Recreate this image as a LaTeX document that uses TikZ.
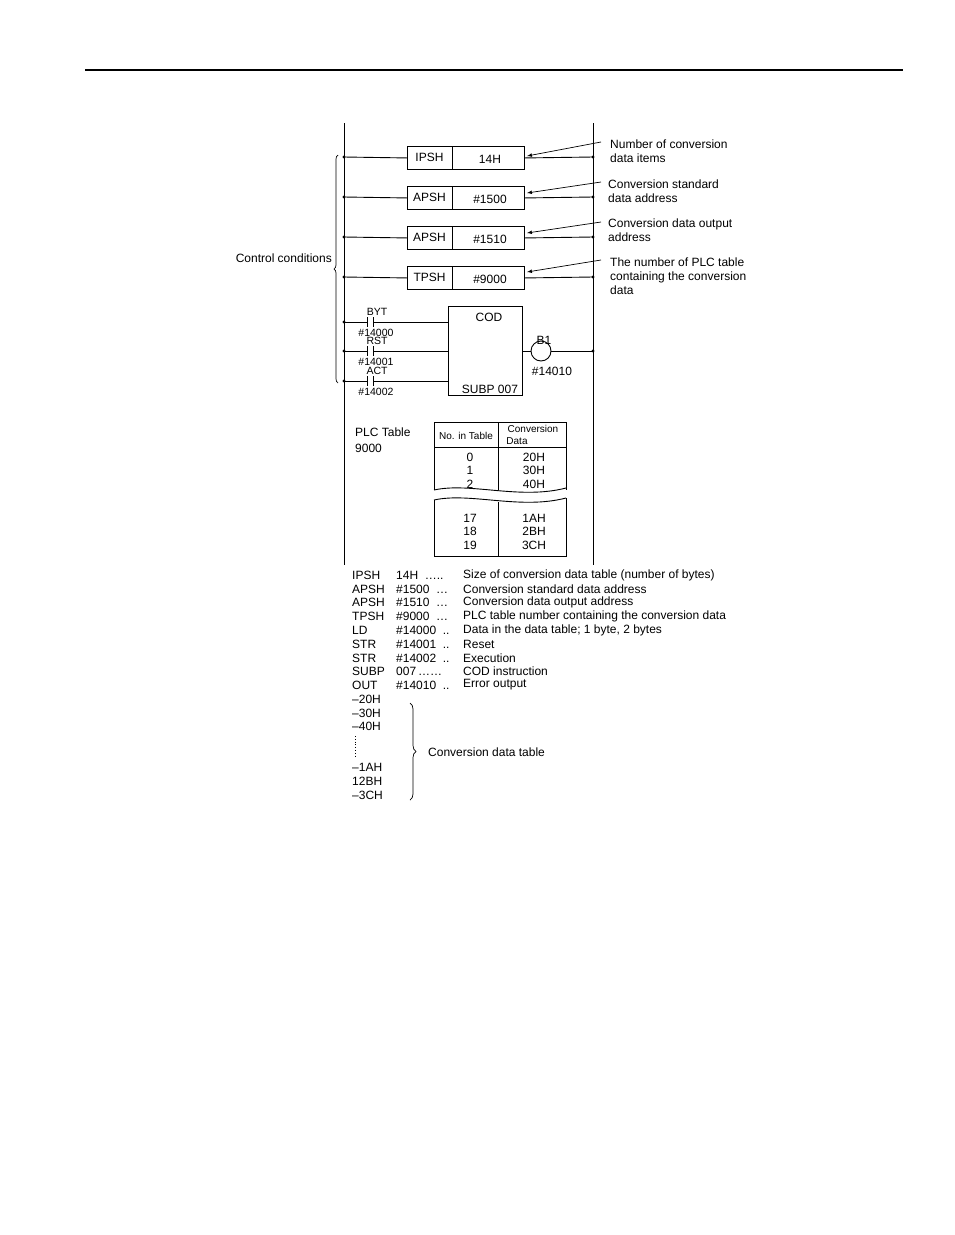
\documentclass[tikz,border=0pt]{standalone}
\usepackage{fontspec}
\setmainfont{Liberation Sans}
\usetikzlibrary{decorations.pathreplacing}
\begin{document}
\begin{tikzpicture}[x=1pt,y=-1pt,
  txt/.style={font=\fontsize{12}{14}\selectfont,inner sep=0pt},
  ctxt/.style={font=\fontsize{10.5}{12}\selectfont,inner sep=0pt},
  lt/.style={txt,anchor=west},
  small/.style={font=\fontsize{10}{11}\selectfont,inner sep=0pt},
  wire/.style={line width=0.9pt},
  dot/.style={circle,fill,inner sep=1.2pt},
  ptr/.style={-latex,line width=0.7pt}]
\useasboundingbox (0,0) rectangle (954,1235);
\draw[line width=1.6pt] (85,70) -- (903,70);
% rails
\draw[wire] (344,123) -- (344,565);
\draw[wire] (593,123) -- (593,565);
% push boxes
\foreach \n/\a/\b/\yt in {ipsh/IPSH/14H/146,apsh/APSH/\#1500/186,apshb/APSH/\#1510/226,tpsh/TPSH/\#9000/266}{
  \node[draw,wire,minimum width=117pt,minimum height=23pt,anchor=north west,inner sep=0pt] (\n) at (407,\yt) {};
  \draw[wire] (452,\yt) -- ++(0,23);
  \node[txt] at (429.5,\yt+11) {\a};
  \node[txt] at (490,\yt+13) {\b};
  \coordinate (\n L) at (344,\yt+11);
  \coordinate (\n R) at (593,\yt+11);
  \draw[wire] (\n L) -- (\n.west);
  \draw[wire] (\n.east) -- (\n R);
  \node[dot] at (\n L) {};
  \node[dot] at (\n R) {};
}
% labels with arrows
\node[lt,align=left,anchor=north west] (l1) at (610,140) {Number of conversion\\data items};
\node[lt,align=left,anchor=north west] (l2) at (608,180) {Conversion standard\\data address};
\node[lt,align=left,anchor=north west] (l3) at (608,219) {Conversion data output\\address};
\node[lt,align=left,anchor=north west] (l4) at (610,258) {The number of PLC table\\containing the conversion\\data};
\draw[ptr] (601,142) -- (527,156);
\draw[ptr] (601,182) -- (527,193);
\draw[ptr] (601,222) -- (527,233);
\draw[ptr] (601,260) -- (527,272);
% COD box
\node[draw,wire,minimum width=74pt,minimum height=89pt,anchor=north west,inner sep=0pt] (cod) at (448,306) {};
\node[txt] at (489,317) {COD};
\node[txt] at (490,389) {SUBP 007};
% contacts
\foreach \y/\t/\u in {322/BYT/14000,351/RST/14001,381/ACT/14002}{
  \coordinate (cl) at (344,\y);
  \node[dot] at (cl) {};
  \draw[wire] (cl) -- (367,\y);
  \draw[wire] (367,\y-5) -- (367,\y+5);
  \draw[wire] (373,\y-5) -- (373,\y+5);
  \draw[wire] (373,\y) -- (448,\y);
  \node[ctxt] at (377,\y-10) {\t};
  \node[ctxt] at (376,\y+11) {\#\u};
}
% coil
\node[draw,wire,circle,minimum size=20pt,inner sep=0pt] (coil) at (541,351) {};
\draw[wire] (522,351) -- (coil.west);
\draw[wire] (coil.east) -- (593,351);
\node[dot] at (593,351) {};
\node[txt] at (544,340) {B1};
\node[txt] at (552,371) {\#14010};
% control conditions brace
\draw[line width=0.7pt,decorate,decoration={brace,amplitude=4pt}] (338,383) -- (338,155);
\node[txt,anchor=east] at (332,258) {Control conditions};
% table
\node[lt] at (355,432) {PLC Table};
\node[lt] at (355,448) {9000};
\draw[wire] (434,490) -- (434,422) -- (566,422) -- (566,490);
\draw[wire] (434,447) -- (566,447);
\draw[wire] (498,422) -- (498,490);
\draw[wire] (434,490) .. controls (470,482) and (520,500) .. (566,488);
\draw[wire] (434,500) .. controls (470,492) and (520,510) .. (566,498);
\draw[wire] (434,500) -- (434,556) -- (566,556) -- (566,498);
\draw[wire] (498,502) -- (498,556);
\node[small] at (466,436) {No. in Table};
\node[small] at (533,429) {Conversion};
\node[small] at (517,441) {Data};
\foreach \y/\a/\b in {457/0/20H,470/1/30H,484/2/40H,518/17/1AH,531/18/2BH,545/19/3CH}{
  \node[txt] at (470,\y) {\a};
  \node[txt] at (534,\y) {\b};
}
% listing
\foreach \y/\a/\b/\c in {575/IPSH/14H\ \ \dots../Size of conversion data table (number of bytes),
  589/APSH/\#1500\ \ \dots/Conversion standard data address,
  602/APSH/\#1510\ \ \dots/Conversion data output address,
  616/TPSH/\#9000\ \ \dots/PLC table number containing the conversion data,
  630/LD/\#14000\ \ ../{Data in the data table; 1 byte, 2 bytes},
  644/STR/\#14001\ \ ../Reset,
  658/STR/\#14002\ \ ../Execution,
  671/SUBP/007\,\dots\dots/COD instruction,
  685/OUT/\#14010\ \ ../Error output}{
  \node[lt] at (352,\y) {\a};
  \node[lt] at (396,\y) {\b};
  \node[lt] at (463,\y) {\c};
}
\foreach \y/\a in {699/--20H,713/--30H,726/--40H,767/--1AH,781/12BH,795/--3CH}{
  \node[lt] at (352,\y) {\a};
}
\draw[dotted,line width=0.8pt] (355,736) -- (355,758);
\draw[line width=0.7pt,decorate,decoration={brace,amplitude=6pt}] (410,703) -- (410,800);
\node[lt] at (428,752) {Conversion data table};
\end{tikzpicture}
\end{document}
